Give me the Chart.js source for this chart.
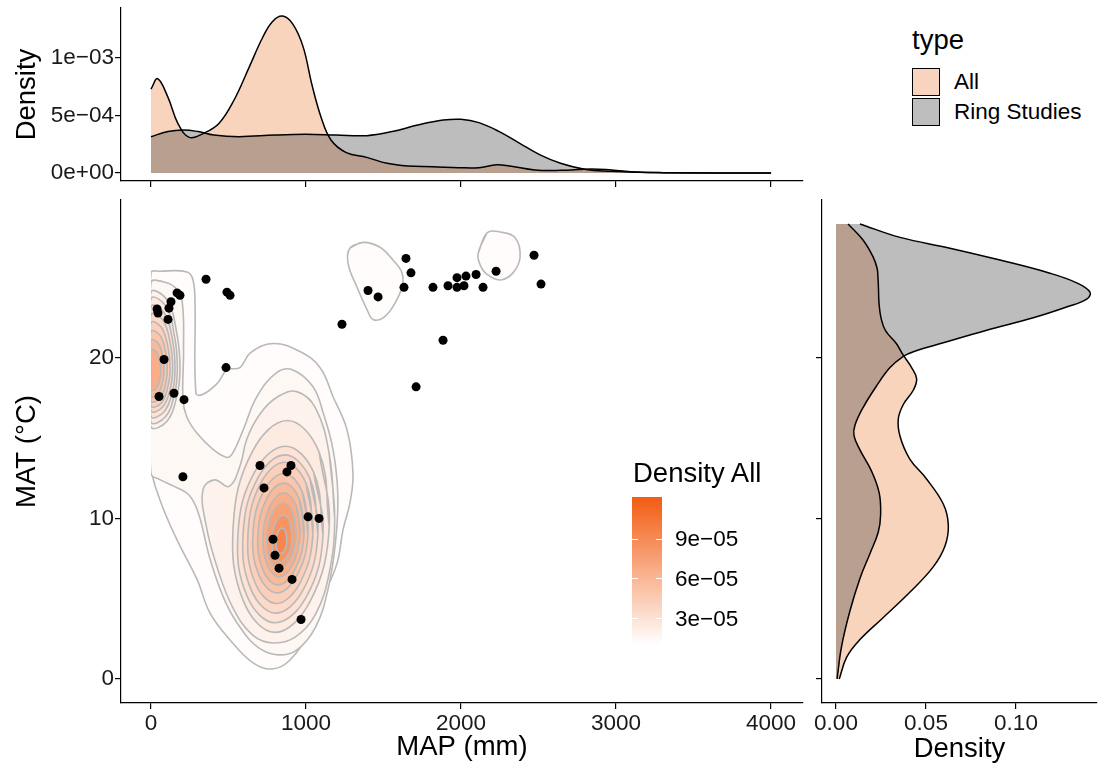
<!DOCTYPE html>
<html>
<head>
<meta charset="utf-8">
<title>MAP vs MAT</title>
<script src="https://cdn.jsdelivr.net/npm/chart.js@4.4.1/dist/chart.umd.min.js"></script>
<style>
  body { margin: 0; background: #fff; }
  #page { position: relative; width: 1098px; height: 771px; overflow: hidden;
          font-family: "Liberation Sans", Arial, sans-serif; color: #000; }
  #page canvas { position: absolute; }
  .txt { position: absolute; white-space: nowrap; }
  .sw { position: absolute; box-sizing: border-box; border: 1.5px solid #000; }
  .tk { position: absolute; height: 1px; width: 6px; background: #fff; }
</style>
</head>
<body>
<div id="page">
  <canvas id="topChart" width="815" height="192" style="left:0;top:0"></canvas>
  <canvas id="mainChart" width="815" height="581" style="left:0;top:190px"></canvas>
  <canvas id="sideChart" width="283" height="581" style="left:815px;top:190px"></canvas>
</div>
<script>
// ---- categories and tick labels ----
const typeNames = ['All', 'Ring Studies'];
const mapTicks = [0, 1000, 2000, 3000, 4000];
const matTicks = [0, 10, 20];
const topDensTicks = [0, 0.0005, 0.001];
const topDensLabels = ['0e+00', '5e\u221204', '1e\u221203'];
const sideDensTicks = [0, 0.05, 0.10];
const sideDensLabels = ['0.00', '0.05', '0.10'];
const levelTicks = [3e-5, 6e-5, 9e-5];
const levelLabels = ['3e\u221205', '6e\u221205', '9e\u221205'];
const levelRange = [1.0e-5, 1.22e-4];

// ---- ring study sites (MAP mm, MAT °C) ----
const siteMAP = [355, 490, 510, 168, 187, 129, 116, 39, 45, 110, 84, 484, 52, 148, 213,
  1232, 1400, 1465, 1645, 1677, 1632, 1819, 1916, 1974, 2032, 1974, 2019, 2097, 2142, 2226,
  2471, 2516, 1884, 1710, 206, 703, 903, 877, 729, 1013, 1084, 787, 800, 826, 910, 968];
const siteMAT = [24.9, 24.1, 23.9, 24.05, 23.9, 23.5, 23.1, 23.05, 22.8, 22.4, 19.9, 19.4, 17.6, 17.8, 17.4,
  22.1, 24.2, 23.8, 26.2, 25.3, 24.4, 24.4, 24.5, 25.0, 25.1, 24.4, 24.5, 25.2, 24.4, 25.4,
  26.4, 24.6, 21.1, 18.2, 12.6, 13.3, 13.3, 12.9, 11.9, 10.1, 10.0, 8.7, 7.7, 6.9, 6.2, 3.7];

// ---- marginal density of MAP ----
const allMapX = [0, 43, 109, 174, 247, 339, 438, 536, 635, 717, 783, 849, 915, 981, 1036, 1096, 1161,
  1260, 1392, 1523, 1655, 1819, 1984, 2115, 2230, 2313, 2477, 2642, 2839, 2971, 3135, 3300, 3629, 4000];
const allMapD = [0.00073, 0.00082, 0.00066, 0.00043, 0.00031, 0.000345, 0.00043, 0.000635, 0.000925, 0.00117,
  0.001316, 0.001365, 0.001295, 0.001099, 0.00078, 0.00049, 0.000287, 0.000177, 0.000136, 0.000084, 0.000061,
  0.000055, 0.000046, 0.000046, 0.000072, 0.000061, 0.000026, 0.000023, 0.000035, 0.000026, 0.000009,
  0.000003, 0.0000005, 0];
const ringMapX = [0, 109, 207, 306, 405, 569, 800, 997, 1194, 1392, 1556, 1720, 1885, 2000, 2115, 2247,
  2379, 2510, 2642, 2806, 2971, 3135, 3300, 3629, 4000];
const ringMapD = [0.000316, 0.00036, 0.000374, 0.00036, 0.00033, 0.000316, 0.00033, 0.000336, 0.00033, 0.000325,
  0.00036, 0.000417, 0.00046, 0.000467, 0.000438, 0.00036, 0.000258, 0.000157, 0.000084, 0.00003, 0.000015,
  0.000006, 0.000002, 0.0000005, 0.0000003];

// ---- marginal density of MAT ----
const allMatY = [0, 1.37, 2.45, 3.8, 5.4, 6.98, 8.3, 9.6, 10.9, 12.5, 13.7, 15.1, 16.2, 17.1, 18.0, 18.7,
  19.4, 20.2, 20.9, 21.7, 22.5, 23.4, 24.3, 25.05, 25.6, 26.3, 27.35, 28.35];
const allMatD = [0.0018, 0.006, 0.0133, 0.026, 0.041, 0.054, 0.0606, 0.0624, 0.0596, 0.050, 0.041, 0.0356,
  0.0346, 0.0374, 0.043, 0.0448, 0.042, 0.0372, 0.0335, 0.0275, 0.025, 0.0239, 0.0236, 0.0233, 0.0228,
  0.0206, 0.015, 0.0067];
const ringMatY = [0, 2.03, 4.26, 6.26, 7.82, 9.15, 10.26, 11.59, 12.93, 14.27, 15.16, 15.83, 16.94, 18.27,
  19.4, 20.1, 20.39, 20.94, 21.72, 22.5, 23.17, 23.66, 24.1, 24.68, 25.28, 26.1, 26.84, 27.51, 28.35];
const ringMatD = [0.0006, 0.0031, 0.0078, 0.0133, 0.0189, 0.0235, 0.0248, 0.024, 0.0198, 0.0133, 0.010,
  0.0106, 0.0152, 0.0226, 0.030, 0.0374, 0.043, 0.0596, 0.0837, 0.1096, 0.1281, 0.1393, 0.1411, 0.1337,
  0.1189, 0.0911, 0.0633, 0.0356, 0.0133];

// ---- 2D density contours of "All" (MAP, MAT) ----
const contourLevel = [1.209e-4, 1.116e-4, 1.023e-4, 9.3e-5, 9.3e-5, 8.37e-5, 8.37e-5, 7.44e-5, 7.44e-5,
  6.51e-5, 6.51e-5, 5.58e-5, 5.58e-5, 4.65e-5, 4.65e-5, 3.72e-5, 3.72e-5, 2.79e-5, 2.79e-5,
  1.86e-5, 9.3e-6, 9.3e-6, 9.3e-6];
const contourPaths = [
  [[877,8.6],[869,9.16],[846,9.4],[820,9.16],[806,8.6],[813,8.04],[836,7.8],[863,8.04]],
  [[910,8.75],[896,9.77],[854,10.2],[806,9.77],[781,8.75],[794,7.74],[836,7.3],[884,7.74]],
  [[935,8.93],[915,10.35],[853,10.96],[784,10.35],[748,8.93],[767,7.51],[829,6.9],[898,7.51]],
  [[961,8.98],[936,10.81],[858,11.6],[770,10.81],[723,8.98],[748,7.15],[826,6.36],[914,7.15]],
  [[0,19.25],[0,20.5],[35,20.38],[57,19.81],[63,19.25],[57,18.69],[35,18.13],[0,18.0],[0,19.25]],
  [[987,9.03],[955,11.25],[857,12.2],[747,11.25],[690,9.03],[721,6.81],[819,5.86],[929,6.81]],
  [[0,19.3],[0,21.1],[46,20.92],[76,20.11],[84,19.3],[76,18.54],[46,17.77],[0,17.6],[0,19.3]],
  [[1013,9.08],[975,11.68],[857,12.8],[726,11.68],[658,9.08],[695,6.48],[813,5.36],[944,6.48]],
  [[0,19.3],[0,21.65],[58,21.42],[95,20.36],[105,19.3],[95,18.4],[58,17.5],[0,17.3],[0,19.3]],
  [[1045,9.1],[1000,12.18],[861,13.5],[707,12.18],[626,9.1],[670,6.02],[809,4.7],[963,6.02]],
  [[0,19.3],[0,22.2],[68,21.9],[111,20.6],[123,19.3],[111,18.3],[68,17.2],[0,17.0],[0,19.3]],
  [[1077,9.03],[1025,12.48],[865,13.96],[687,12.48],[594,9.03],[645,5.58],[805,4.1],[983,5.58]],
  [[0,19.3],[0,22.7],[77,22.36],[126,20.83],[140,19.3],[126,18.13],[77,16.96],[0,16.7],[0,19.3]],
  [[1110,9.0],[1050,12.85],[868,14.5],[666,12.85],[561,9.0],[620,5.15],[802,3.5],[1004,5.15]],
  [[0,19.3],[0,23.2],[85,22.81],[140,21.06],[155,19.3],[140,17.97],[85,16.65],[0,16.35],[0,19.3]],
  [[1150,9.5],[1085,14.12],[880,16.1],[651,14.12],[530,9.5],[595,4.88],[800,2.9],[1029,4.88]],
  [[0,19.3],[0,23.7],[94,23.26],[153,21.28],[170,19.3],[153,17.81],[94,16.33],[0,16.0],[0,19.3]],
  [[1185,10.0],[1150,14.0],[1060,16.9],[940,17.9],[820,17.6],[710,16.6],[620,15.0],[575,13.3],[505,12.0],
   [410,12.4],[335,11.8],[355,9.6],[425,7.0],[530,4.4],[660,2.7],[790,2.24],[930,2.6],[1060,4.0],[1150,6.6]],
  [[0,19.3],[0,24.1],[103,23.62],[168,21.46],[187,19.3],[168,17.68],[103,16.06],[0,15.7],[0,19.3]],
  [[0,18.5],[0,24.7],[77,24.75],[155,24.4],[200,23.6],[210,20.5],[206,17.4],[232,16.3],[297,15.3],[400,14.3],
   [490,13.8],[529,14.1],[594,15.5],[684,17.6],[813,19.1],[916,19.25],[1045,18.2],[1110,16.6],[1174,14.3],
   [1205,11.5],[1190,8.5],[1140,5.5],[1060,3.2],[940,1.8],[820,1.5],[700,1.9],[590,3.0],[480,4.8],[380,7.5],
   [310,10.2],[250,11.4],[150,12.0],[60,12.4],[0,12.8],[0,18.5]],
  [[0,19.3],[0,25.3],[58,25.4],[232,25.36],[271,24.86],[284,23.4],[290,17.8],[329,17.7],[426,18.4],[490,19.25],
   [574,19.4],[639,20.3],[787,20.9],[961,20.4],[1090,19.4],[1174,17.6],[1265,15.5],[1303,12.8],[1284,11.0],
   [1239,9.3],[1200,7.2],[1110,5.1],[1026,3.05],[897,1.18],[781,0.62],[658,1.0],[510,2.43],[381,4.1],
   [297,6.2],[168,8.66],[58,11.15],[0,13.3],[0,19.3]],
  [[1284,26.85],[1368,27.2],[1477,26.9],[1561,26.1],[1619,25.3],[1619,24.4],[1561,23.2],[1497,22.5],
   [1432,22.4],[1394,23.0],[1329,24.4],[1271,25.9]],
  [[2110,26.5],[2168,27.8],[2252,27.85],[2348,27.5],[2381,26.3],[2335,25.3],[2252,24.86],[2168,25.2],[2123,25.8]]
];

// ---- styling ----
const TICK = 22.5, TITLE = 27.5, TICK_COLOR = '#1a1a1a';
const typeFill = ['rgba(235,112,38,0.3)', 'rgba(38,38,38,0.3)'];
const lowCol = [255, 255, 255], highCol = [242, 92, 18];

Chart.defaults.font.family = '"Liberation Sans", Arial, sans-serif';
Chart.defaults.color = '#000';
Chart.defaults.animation = false;

function mix(t) {
  t = Math.max(0, Math.min(1, t));
  const c = lowCol.map((l, i) => Math.round(l + (highCol[i] - l) * t));
  return 'rgb(' + c.join(',') + ')';
}
const legendColour = v => mix((v - levelRange[0]) / (levelRange[1] - levelRange[0]));
const bandColour = v => mix(0.75 * Math.pow(v / levelRange[1], 1.5));

const axisLine = { display: true, color: '#000', width: 1.2 };
const tickMarks = { display: true, drawOnChartArea: false, drawTicks: true, tickLength: 6, color: '#000', lineWidth: 1.2 };
const setTicks = values => s => { s.ticks = values.map(v => ({ value: v })); };
// fixed box sizes, and no extra room for half tick labels
const fitBox = (w, h) => s => {
  if (w !== null) s.width = w;
  if (h !== null) s.height = h;
  s.paddingTop = s.paddingBottom = s.paddingLeft = s.paddingRight = 0;
};
const tickFont = { size: TICK };
const hidden = { color: 'rgba(0,0,0,0)', font: tickFont };
const pairs = (xs, ys) => xs.map((x, i) => ({ x: x, y: ys[i] }));
const closeLoop = p => {
  const a = p[0], b = p[p.length - 1];
  return (a[0] === b[0] && a[1] === b[1]) ? p : p.concat([p[0], p[1]]);
};

// ---- top marginal: density of MAP ----
new Chart(document.getElementById('topChart'), {
  type: 'scatter',
  data: {
    datasets: [
      { label: typeNames[1], data: pairs(ringMapX, ringMapD), showLine: true, fill: 'origin',
        backgroundColor: typeFill[1], borderColor: '#000', borderWidth: 1.5, pointRadius: 0, tension: 0.4 },
      { label: typeNames[0], data: pairs(allMapX, allMapD), showLine: true, fill: 'origin',
        backgroundColor: typeFill[0], borderColor: '#000', borderWidth: 1.5, pointRadius: 0, tension: 0.4 }
    ]
  },
  options: {
    responsive: false, events: [],
    layout: { padding: { top: 8, right: 12, left: 0, bottom: 0 } },
    plugins: { legend: { display: false }, tooltip: { enabled: false }, filler: { drawTime: 'beforeDatasetsDraw' } },
    scales: {
      x: { type: 'linear', min: -193.5, max: 4206, border: axisLine, grid: tickMarks,
           afterBuildTicks: setTicks(mapTicks), afterFit: fitBox(null, 11), ticks: hidden },
      y: { type: 'linear', min: -0.0000696, max: 0.001435, border: axisLine, grid: tickMarks,
           afterBuildTicks: setTicks(topDensTicks), afterFit: fitBox(121, null),
           ticks: { font: tickFont, color: TICK_COLOR, padding: 1, autoSkip: false,
                    callback: (v, i) => topDensLabels[i] },
           title: { display: true, text: 'Density', font: { size: TITLE }, color: '#000', padding: { top: 11, bottom: 0 } } }
    }
  }
});

// ---- main panel: contours + sites ----
const clipToDataRange = {
  id: 'clipToDataRange',
  beforeDatasetsDraw(chart) {
    const { ctx, chartArea: a, scales: { x } } = chart;
    const left = x.getPixelForValue(mapTicks[0]);
    ctx.save();
    ctx.beginPath();
    ctx.rect(left, a.top, a.right - left, a.bottom - a.top);
    ctx.clip();
  },
  afterDatasetsDraw(chart) { chart.ctx.restore(); }
};

const mainSets = [{
  label: typeNames[1], data: pairs(siteMAP, siteMAT), pointRadius: 4.5,
  pointBackgroundColor: '#000', pointBorderWidth: 0, showLine: false
}];
contourPaths.forEach((p, i) => {
  mainSets.push({
    data: closeLoop(p).map(q => ({ x: q[0], y: q[1] })), showLine: true, fill: 'shape',
    backgroundColor: bandColour(contourLevel[i]), borderColor: '#b9b9b9', borderWidth: 1.6,
    pointRadius: 0, tension: 0.4
  });
});

new Chart(document.getElementById('mainChart'), {
  type: 'scatter',
  data: { datasets: mainSets },
  plugins: [clipToDataRange],
  options: {
    responsive: false, events: [],
    layout: { padding: { top: 10, right: 12, left: 0, bottom: 0 } },
    plugins: { legend: { display: false }, tooltip: { enabled: false } },
    scales: {
      x: { type: 'linear', min: -193.5, max: 4206, border: axisLine, grid: tickMarks,
           afterBuildTicks: setTicks(mapTicks), afterFit: fitBox(null, 68),
           ticks: { font: tickFont, color: TICK_COLOR, padding: 1, maxRotation: 0, autoSkip: false,
                    callback: v => String(v) },
           title: { display: true, text: 'MAP (mm)', font: { size: TITLE }, color: '#000', padding: { top: 0, bottom: 7 } } },
      y: { type: 'linear', min: -1.5, max: 29.84, border: axisLine, grid: tickMarks,
           afterBuildTicks: setTicks(matTicks), afterFit: fitBox(121, null),
           ticks: { font: tickFont, color: TICK_COLOR, padding: 1, autoSkip: false, callback: v => String(v) },
           title: { display: true, text: 'MAT (\u00B0C)', font: { size: TITLE }, color: '#000', padding: { top: 11, bottom: 0 } } }
    }
  }
});

// ---- right marginal: density of MAT ----
new Chart(document.getElementById('sideChart'), {
  type: 'line',
  data: {
    datasets: [
      { label: typeNames[1], data: pairs(ringMatD, ringMatY), fill: 'origin',
        backgroundColor: typeFill[1], borderColor: '#000', borderWidth: 1.5, pointRadius: 0, tension: 0.4 },
      { label: typeNames[0], data: pairs(allMatD, allMatY), fill: 'origin',
        backgroundColor: typeFill[0], borderColor: '#000', borderWidth: 1.5, pointRadius: 0, tension: 0.4 }
    ]
  },
  options: {
    responsive: false, events: [], indexAxis: 'y',
    layout: { padding: { top: 10, right: 1, left: 0, bottom: 0 } },
    plugins: { legend: { display: false }, tooltip: { enabled: false }, filler: { drawTime: 'beforeDatasetsDraw' } },
    scales: {
      x: { type: 'linear', min: -0.00778, max: 0.145, border: axisLine, grid: tickMarks,
           afterBuildTicks: setTicks(sideDensTicks), afterFit: fitBox(null, 68),
           ticks: { font: tickFont, color: TICK_COLOR, padding: 1, maxRotation: 0, autoSkip: false,
                    callback: (v, i) => sideDensLabels[i] },
           title: { display: true, text: 'Density', font: { size: TITLE }, color: '#000', padding: { top: 0, bottom: 5 } } },
      y: { type: 'linear', min: -1.5, max: 29.84, border: axisLine, grid: tickMarks,
           afterBuildTicks: setTicks(matTicks), afterFit: fitBox(7, null), ticks: hidden }
    }
  }
});

// ---- legends (HTML text) ----
const page = document.getElementById('page');
function addText(text, left, baseline, size) {
  const d = document.createElement('div');
  d.className = 'txt';
  d.textContent = text;
  d.style.fontSize = size + 'px';
  d.style.lineHeight = size + 'px';
  d.style.left = left + 'px';
  d.style.top = (baseline - 0.8465 * size) + 'px';
  page.appendChild(d);
  return d;
}
function addBox(cls, left, top, w, h, bg) {
  const d = document.createElement('div');
  d.className = cls;
  Object.assign(d.style, { left: left + 'px', top: top + 'px', width: w + 'px', height: h + 'px', background: bg });
  page.appendChild(d);
  return d;
}

// fill legend for type
addText('type', 912, 49, TITLE);
typeNames.forEach((name, i) => {
  const top = 68 + i * 30;
  addBox('sw', 912, top, 28, 28, 'linear-gradient(' + typeFill[i] + ',' + typeFill[i] + '), #fff');
  addText(name, 954, top + 14 + 0.36 * TICK, TICK);
});

// colour bar for density levels
const barLeft = 632, barTop = 497, barW = 30, barH = 148;
addText('Density All', 633, 482, TITLE);
const stops = [];
for (let k = 0; k <= 10; k++) {
  const v = levelRange[0] + (levelRange[1] - levelRange[0]) * k / 10;
  stops.push(legendColour(v) + ' ' + (k * 10) + '%');
}
addBox('txt', barLeft, barTop, barW, barH, 'linear-gradient(to top, ' + stops.join(', ') + ')');
levelTicks.forEach((v, i) => {
  const y = barTop + barH - (v - levelRange[0]) / (levelRange[1] - levelRange[0]) * barH;
  addBox('tk', barLeft, y - 0.5, 6, 1, '#fff');
  addBox('tk', barLeft + barW - 6, y - 0.5, 6, 1, '#fff');
  addText(levelLabels[i], 675, y + 0.36 * TICK, TICK);
});
</script>
</body>
</html>
